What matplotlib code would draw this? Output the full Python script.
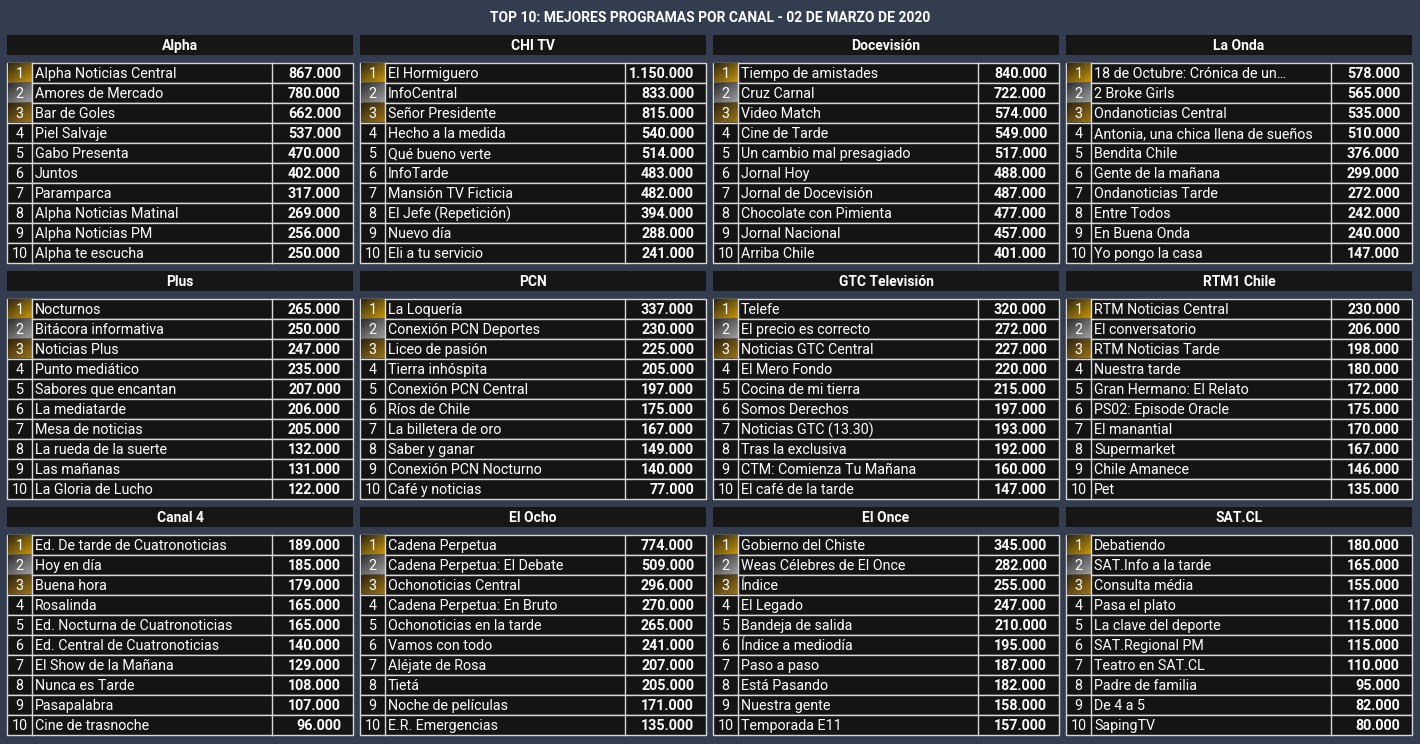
import matplotlib
matplotlib.use("Agg")
import matplotlib.pyplot as plt
import numpy as np
from matplotlib.colors import LinearSegmentedColormap

title = "TOP 10: MEJORES PROGRAMAS POR CANAL - 02 DE MARZO DE 2020"
channels = ["Alpha", "CHI TV", "Docevisión", "La Onda", "Plus", "PCN", "GTC Televisión", "RTM1 Chile",
            "Canal 4", "El Ocho", "El Once", "SAT.CL"]
programs = [
    ["Alpha Noticias Central", "Amores de Mercado", "Bar de Goles", "Piel Salvaje", "Gabo Presenta", "Juntos", "Paramparca", "Alpha Noticias Matinal", "Alpha Noticias PM", "Alpha te escucha"],
    ["El Hormiguero", "InfoCentral", "Señor Presidente", "Hecho a la medida", "Qué bueno verte", "InfoTarde", "Mansión TV Ficticia", "El Jefe (Repetición)", "Nuevo día", "Eli a tu servicio"],
    ["Tiempo de amistades", "Cruz Carnal", "Video Match", "Cine de Tarde", "Un cambio mal presagiado", "Jornal Hoy", "Jornal de Docevisión", "Chocolate con Pimienta", "Jornal Nacional", "Arriba Chile"],
    ["18 de Octubre: Crónica de un…", "2 Broke Girls", "Ondanoticias Central", "Antonia, una chica llena de sueños", "Bendita Chile", "Gente de la mañana", "Ondanoticias Tarde", "Entre Todos", "En Buena Onda", "Yo pongo la casa"],
    ["Nocturnos", "Bitácora informativa", "Noticias Plus", "Punto mediático", "Sabores que encantan", "La mediatarde", "Mesa de noticias", "La rueda de la suerte", "Las mañanas", "La Gloria de Lucho"],
    ["La Loquería", "Conexión PCN Deportes", "Liceo de pasión", "Tierra inhóspita", "Conexión PCN Central", "Ríos de Chile", "La billetera de oro", "Saber y ganar", "Conexión PCN Nocturno", "Café y noticias"],
    ["Telefe", "El precio es correcto", "Noticias GTC Central", "El Mero Fondo", "Cocina de mi tierra", "Somos Derechos", "Noticias GTC (13.30)", "Tras la exclusiva", "CTM: Comienza Tu Mañana", "El café de la tarde"],
    ["RTM Noticias Central", "El conversatorio", "RTM Noticias Tarde", "Nuestra tarde", "Gran Hermano: El Relato", "PS02: Episode Oracle", "El manantial", "Supermarket", "Chile Amanece", "Pet"],
    ["Ed. De tarde de Cuatronoticias", "Hoy en día", "Buena hora", "Rosalinda", "Ed. Nocturna de Cuatronoticias", "Ed. Central de Cuatronoticias", "El Show de la Mañana", "Nunca es Tarde", "Pasapalabra", "Cine de trasnoche"],
    ["Cadena Perpetua", "Cadena Perpetua: El Debate", "Ochonoticias Central", "Cadena Perpetua: En Bruto", "Ochonoticias en la tarde", "Vamos con todo", "Aléjate de Rosa", "Tietá", "Noche de películas", "E.R. Emergencias"],
    ["Gobierno del Chiste", "Weas Célebres de El Once", "Índice", "El Legado", "Bandeja de salida", "Índice a mediodía", "Paso a paso", "Está Pasando", "Nuestra gente", "Temporada E11"],
    ["Debatiendo", "SAT.Info a la tarde", "Consulta média", "Pasa el plato", "La clave del deporte", "SAT.Regional PM", "Teatro en SAT.CL", "Padre de familia", "De 4 a 5", "SapingTV"],
]
audience = [
    [867000, 780000, 662000, 537000, 470000, 402000, 317000, 269000, 256000, 250000],
    [1150000, 833000, 815000, 540000, 514000, 483000, 482000, 394000, 288000, 241000],
    [840000, 722000, 574000, 549000, 517000, 488000, 487000, 477000, 457000, 401000],
    [578000, 565000, 535000, 510000, 376000, 299000, 272000, 242000, 240000, 147000],
    [265000, 250000, 247000, 235000, 207000, 206000, 205000, 132000, 131000, 122000],
    [337000, 230000, 225000, 205000, 197000, 175000, 167000, 149000, 140000, 77000],
    [320000, 272000, 227000, 220000, 215000, 197000, 193000, 192000, 160000, 147000],
    [230000, 206000, 198000, 180000, 172000, 175000, 170000, 167000, 146000, 135000],
    [189000, 185000, 179000, 165000, 165000, 140000, 129000, 108000, 107000, 96000],
    [774000, 509000, 296000, 270000, 265000, 241000, 207000, 205000, 171000, 135000],
    [345000, 282000, 255000, 247000, 210000, 195000, 187000, 182000, 158000, 157000],
    [180000, 165000, 155000, 117000, 115000, 115000, 110000, 95000, 82000, 80000],
]

W, H = 1420, 744
fig = plt.figure(figsize=(W/100, H/100), dpi=100, facecolor="#333d4f")
ax = fig.add_axes([0, 0, 1, 1])
ax.set_xlim(0, W); ax.set_ylim(H, 0); ax.axis("off")
ax.set_facecolor("#333d4f")
FONT = "Roboto"
ax.text(W/2, 18, title, ha="center", va="center", color="white", fontsize=10, fontweight="bold", family=FONT)

grads = {1: ("#2e2610", "#c8960c"), 2: ("#2e2e2e", "#a0a0a0"), 3: ("#2e2410", "#9c7418")}
def fmt(v):
    return f"{v:,}".replace(",", ".")

grad = np.add.outer(np.linspace(0, 1, 20), np.linspace(0, 1, 25)) / 2
for i, ch in enumerate(channels):
    r, c = divmod(i, 4)
    x0 = 7 + c * 353
    y0 = 35 + r * 236
    ax.add_patch(plt.Rectangle((x0, y0), 346, 20, fc="#161616", ec="none"))
    ax.text(x0 + 173, y0 + 11, ch, ha="center", va="center", color="white", fontsize=10, fontweight="bold", family=FONT)
    ty = y0 + 28
    for k in range(10):
        yy = ty + k * 20
        ax.add_patch(plt.Rectangle((x0, yy), 346, 20, fc="#141414", ec="#d8d8d8", lw=1))
        if k < 3:
            cm = LinearSegmentedColormap.from_list("g", grads[k+1])
            ax.imshow(grad, cmap=cm, extent=(x0+0.5, x0+25, yy+19.5, yy+0.5), aspect="auto", zorder=2)
        ax.plot([x0+25, x0+25], [yy, yy+20], color="#d8d8d8", lw=1, zorder=3)
        ax.plot([x0+265, x0+265], [yy, yy+20], color="#d8d8d8", lw=1, zorder=3)
        ax.text(x0+12.5, yy+11.2, str(k+1), ha="center", va="center", color="white", fontsize=10.3, family=FONT, zorder=4)
        ax.text(x0+28, yy+11.2, programs[i][k], ha="left", va="center", color="white", fontsize=10.3, family=FONT, zorder=4)
        ax.text(x0+334, yy+11.2, fmt(audience[i][k]), ha="right", va="center", color="white", fontsize=10.3, fontweight="bold", family=FONT, zorder=4)

fig.savefig("out.png", dpi=100, facecolor=fig.get_facecolor())
